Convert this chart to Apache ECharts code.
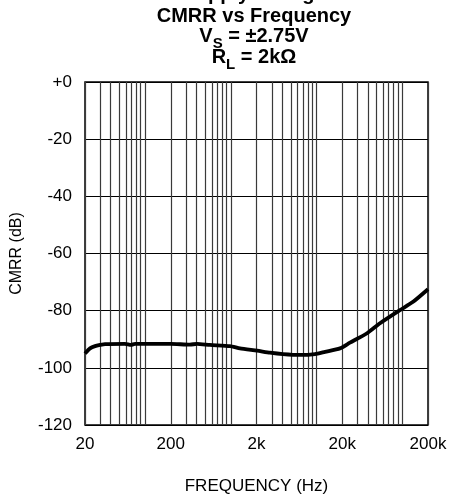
<!DOCTYPE html>
<html>
<head>
<meta charset="utf-8" />
<title>CMRR vs Frequency</title>
<script src="https://cdn.jsdelivr.net/npm/echarts@6/dist/echarts.min.js"></script>
<style type="text/css">
html, body { margin: 0; padding: 0; background: #fff; }
#main { width: 451px; height: 495px; }
</style>
</head>
<body>
<div id="main"></div>
<script type="text/javascript">
// data
var freq = [20, 22.9, 26.2, 30, 34.3, 58.6, 68.8, 76.6, 200, 335, 405, 574, 982, 1285, 2030, 2870, 4070, 6430, 9620, 12600, 18800, 24600, 38900, 55100, 94300, 134000, 200000];
var cmrr = [-95.0, -93.2, -92.4, -92.0, -91.7, -91.6, -92.0, -91.6, -91.6, -91.9, -91.6, -92.0, -92.4, -93.2, -94.0, -94.7, -95.2, -95.5, -95.2, -94.4, -93.2, -91.2, -87.9, -84.4, -79.8, -76.9, -72.5];
var xLabels = ['20', '200', '2k', '20k', '200k'];
var minorMult = [30, 40, 50, 60, 70, 80, 90, 100];
var decades = [1, 10, 100, 1000];

var F0 = 20;
function lx(f) { return Math.log10(f / F0); }

var seriesData = freq.map(function (f, i) { return [lx(f), cmrr[i]]; });
var minorLines = [];
decades.forEach(function (d) {
	minorMult.forEach(function (m) { minorLines.push({ xAxis: lx(m * d) }); });
});

// title lines with subscripts, built as separate text pieces
var ctx = document.createElement('canvas').getContext('2d');
function measure(t, font) { ctx.font = font; return ctx.measureText(t).width; }
var FAM = 'Liberation Sans, Arial, sans-serif';
var titleLines = [
	{ y: 4, parts: [['Supply Voltage', 0]] },
	{ y: 26, parts: [['CMRR vs Frequency', 0]] },
	{ y: 46, parts: [['V', 0], ['S', 1], [' = \u00b12.75V', 0]] },
	{ y: 67, parts: [['R', 0], ['L', 1], [' = 2k\u03a9', 0]] }
];
var graphics = [];
var cx = 254;
titleLines.forEach(function (ln) {
	var total = 0;
	ln.parts.forEach(function (p) {
		var fs = p[1] ? 15 : 20;
		p.w = measure(p[0], 'bold ' + fs + 'px ' + FAM);
		total += p.w;
	});
	var x = cx - total / 2;
	ln.parts.forEach(function (p) {
		var fs = p[1] ? 15 : 20;
		graphics.push({
			type: 'text', x: x, y: ln.y + (p[1] ? 5 : 0),
			style: { text: p[0], font: 'bold ' + fs + 'px ' + FAM, fill: '#000', textAlign: 'left', textVerticalAlign: 'bottom' },
			silent: true
		});
		x += p.w;
	});
});

var myChart = echarts.init(document.getElementById('main'));
var option = {
	backgroundColor: '#fff',
	animation: false,
	grid: { left: 85, top: 82, width: 343, height: 343, outerBoundsMode: 'none', containLabel: false, show: true, borderColor: '#000', borderWidth: 1.5, backgroundColor: 'transparent' },
	graphic: graphics,
	xAxis: {
		type: 'value', min: 0, max: 4, interval: 1,
		name: 'FREQUENCY (Hz)', nameLocation: 'middle', nameGap: 53,
		nameTextStyle: { fontSize: 17, color: '#000', fontFamily: FAM },
		axisLine: { show: false }, axisTick: { show: false },
		axisLabel: { fontSize: 17, color: '#000', margin: 11, fontFamily: FAM, formatter: function (v) { return xLabels[Math.round(v)]; } },
		splitLine: { show: true, lineStyle: { color: '#3a3a3a', width: 1.2 } }
	},
	yAxis: {
		type: 'value', min: -120, max: 0, interval: 20,
		name: 'CMRR (dB)', nameLocation: 'middle', nameGap: 60, nameRotate: 90,
		nameTextStyle: { fontSize: 16, color: '#000', fontFamily: FAM },
		axisLine: { show: false }, axisTick: { show: false },
		axisLabel: { fontSize: 17, color: '#000', margin: 13, fontFamily: FAM, formatter: function (v) { return v === 0 ? '+0' : String(v); } },
		splitLine: { show: true, lineStyle: { color: '#000', width: 1 } }
	},
	series: [{
		type: 'line',
		data: seriesData,
		symbol: 'none',
		smooth: 0.2,
		lineStyle: { color: '#000', width: 3.8 },
		markLine: {
			silent: true, symbol: 'none', animation: false,
			label: { show: false },
			lineStyle: { color: '#3a3a3a', width: 1.2, type: 'solid' },
			data: minorLines
		},
		z: 5
	}]
};
myChart.setOption(option);
</script>
</body>
</html>
